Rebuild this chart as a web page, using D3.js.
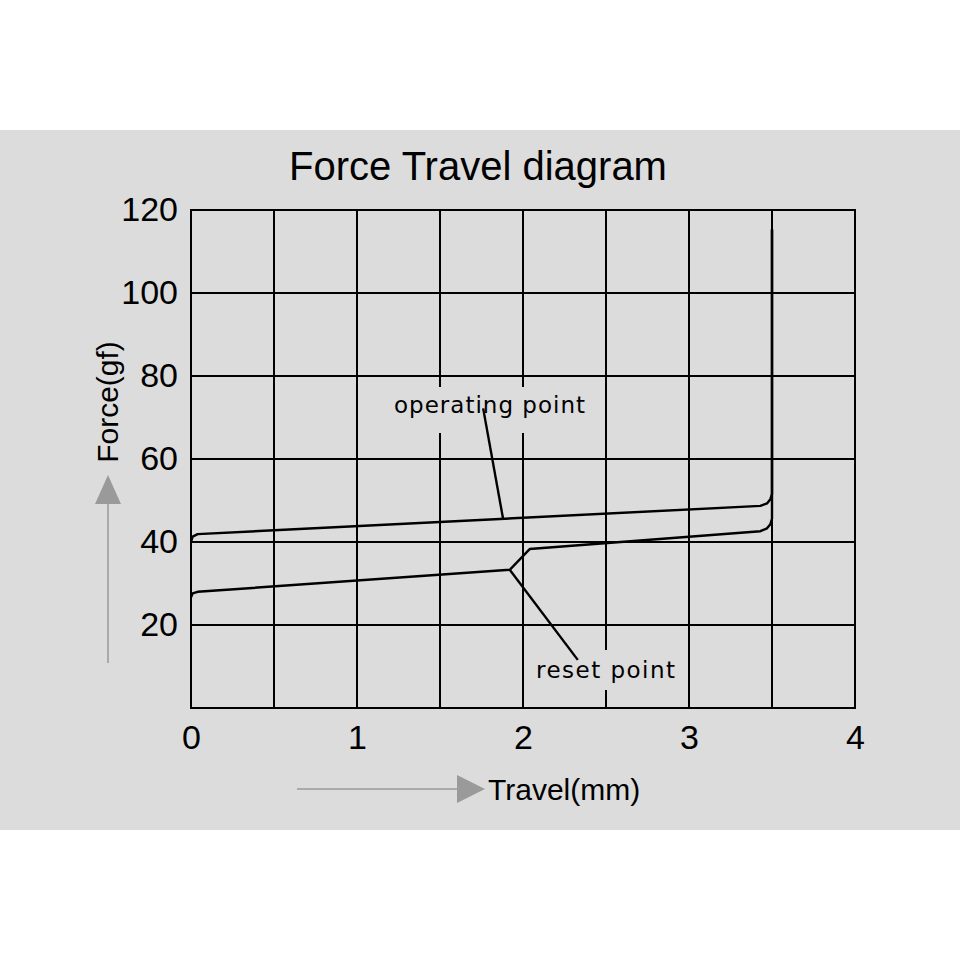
<!DOCTYPE html>
<html>
<head>
<meta charset="utf-8">
<script src="https://cdn.jsdelivr.net/npm/d3@7"></script>
<style>
  body { margin: 0; background: #fff; }
  svg { display: block; }
</style>
</head>
<body>
<div id="chart"></div>
<script>
// values
var xTicks = [0, 1, 2, 3, 4];
var yTicks = [20, 40, 60, 80, 100, 120];
var xGrid = [0.5, 1, 1.5, 2, 2.5, 3, 3.5];
var yGrid = [20, 40, 60, 80, 100];

// operating curve (travel mm, force gf)
var opTravel = [0, 0.01, 0.04, 3.43, 3.47, 3.49, 3.5, 3.5];
var opForce  = [40, 41.3, 41.9, 48.7, 49.3, 50.3, 51.6, 115.3];

// reset curve
var resetTravel = [0, 0.01, 0.04, 1.92, 2.04, 3.43, 3.47, 3.49, 3.5, 3.5];
var resetForce  = [26.7, 27.6, 28.0, 33.3, 38.3, 42.6, 43.3, 44.3, 45.6, 115.3];

// annotation leaders: [travel, force] from label to curve
var opLeader = [[1.76, 72.2], [1.88, 45.6]];
var resetLeader = [[1.92, 33.3], [2.33, 11.6]];

var W = 960, H = 960;
var margin = {top: 210, left: 191, right: 105, bottom: 252};
var width = W - margin.left - margin.right,
    height = H - margin.top - margin.bottom;

var svg = d3.select("#chart").append("svg")
    .attr("width", W)
    .attr("height", H);

// grey panel
svg.append("rect")
    .attr("x", 0).attr("y", 130)
    .attr("width", W).attr("height", 700)
    .attr("fill", "#dcdcdc");

var g = svg.append("g")
    .attr("transform", "translate(" + margin.left + "," + margin.top + ")");

var x = d3.scaleLinear().domain([0, 4]).range([0, width]);
var y = d3.scaleLinear().domain([0, 120]).range([height, 0]);

// grid
g.selectAll(".vgrid").data(xGrid).enter().append("line")
    .attr("x1", function(d) { return x(d); })
    .attr("x2", function(d) { return x(d); })
    .attr("y1", 0).attr("y2", height)
    .attr("stroke", "#000").attr("stroke-width", 2);

g.selectAll(".hgrid").data(yGrid).enter().append("line")
    .attr("x1", 0).attr("x2", width)
    .attr("y1", function(d) { return y(d); })
    .attr("y2", function(d) { return y(d); })
    .attr("stroke", "#000").attr("stroke-width", 2);

// frame
g.append("rect")
    .attr("width", width).attr("height", height)
    .attr("fill", "none")
    .attr("stroke", "#000").attr("stroke-width", 2);

// axes (labels only)
var xAxis = g.append("g")
    .attr("transform", "translate(0," + height + ")")
    .call(d3.axisBottom(x).tickValues(xTicks).tickFormat(d3.format("d"))
      .tickSize(0).tickPadding(17));
var yAxis = g.append("g")
    .call(d3.axisLeft(y).tickValues(yTicks).tickSize(0).tickPadding(13));
[xAxis, yAxis].forEach(function(a) {
  a.select(".domain").remove();
  a.selectAll("text")
    .attr("font-family", "Liberation Sans, Arial, sans-serif")
    .attr("font-size", 34)
    .attr("fill", "#000");
});
xAxis.selectAll("text").attr("dy", "0.71em");

// label knock-outs (grid breaks behind annotations)
var bg = "#dcdcdc";
g.append("rect")
    .attr("x", 390 - margin.left).attr("y", 387 - margin.top)
    .attr("width", 200).attr("height", 46)
    .attr("fill", bg);
g.append("rect")
    .attr("x", 532 - margin.left).attr("y", 650 - margin.top)
    .attr("width", 148).attr("height", 40)
    .attr("fill", bg);

g.append("text")
    .attr("x", 394 - margin.left).attr("y", 413 - margin.top)
    .attr("font-family", "DejaVu Sans, sans-serif")
    .attr("font-size", 23)
    .attr("textLength", 191)
    .attr("lengthAdjust", "spacing")
    .text("operating  point");
g.append("text")
    .attr("x", 536 - margin.left).attr("y", 678 - margin.top)
    .attr("font-family", "DejaVu Sans, sans-serif")
    .attr("font-size", 23)
    .attr("textLength", 139)
    .attr("lengthAdjust", "spacing")
    .text("reset  point");

// curves
var line = d3.line()
    .x(function(d) { return x(d[0]); })
    .y(function(d) { return y(d[1]); });

var opData = d3.zip(opTravel, opForce);
var resetData = d3.zip(resetTravel, resetForce);

[opData, resetData, opLeader, resetLeader].forEach(function(d) {
  g.append("path")
    .datum(d)
    .attr("d", line)
    .attr("fill", "none")
    .attr("stroke", "#000")
    .attr("stroke-width", 2.4)
    .attr("stroke-linejoin", "round");
});

// title
svg.append("text")
    .attr("x", 478).attr("y", 180)
    .attr("text-anchor", "middle")
    .attr("font-family", "Liberation Sans, Arial, sans-serif")
    .attr("font-size", 40)
    .text("Force Travel diagram");

// y axis label + arrow
var grey = "#9a9a9a";
svg.append("text")
    .attr("transform", "translate(118,402) rotate(-90)")
    .attr("text-anchor", "middle")
    .attr("font-family", "Liberation Sans, Arial, sans-serif")
    .attr("font-size", 30)
    .text("Force(gf)");
svg.append("line")
    .attr("x1", 108).attr("x2", 108)
    .attr("y1", 663).attr("y2", 500)
    .attr("stroke", grey).attr("stroke-width", 1.5);
svg.append("path")
    .attr("d", "M108,475 L121,504 L95,504 Z")
    .attr("fill", grey);

// x axis label + arrow
svg.append("line")
    .attr("x1", 297).attr("x2", 460)
    .attr("y1", 789).attr("y2", 789)
    .attr("stroke", grey).attr("stroke-width", 1.5);
svg.append("path")
    .attr("d", "M457,775 L485,789 L457,803 Z")
    .attr("fill", grey);
svg.append("text")
    .attr("x", 488).attr("y", 800)
    .attr("font-family", "Liberation Sans, Arial, sans-serif")
    .attr("font-size", 30)
    .text("Travel(mm)");
</script>
</body>
</html>
